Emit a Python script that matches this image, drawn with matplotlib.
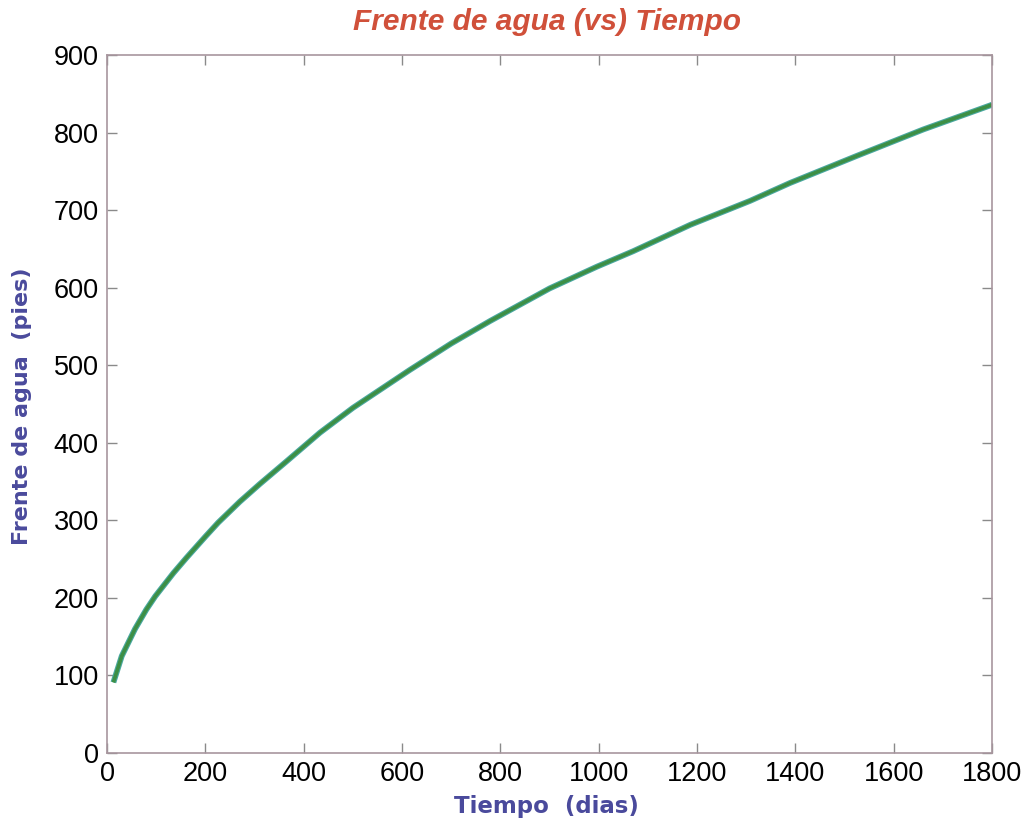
import matplotlib
matplotlib.use("Agg")
import matplotlib.pyplot as plt

# Data
tiempo = [13, 30, 57, 80, 98, 135, 162, 200, 226, 270, 311, 365, 433,
          500, 616, 700, 779, 900, 996, 1070, 1186, 1308, 1389, 1525,
          1660, 1796, 1800]
frente = [91, 125, 160, 185, 202, 232, 252, 279, 297, 324, 347, 376, 413,
          445, 494, 528, 557, 599, 627, 647, 681, 712, 735, 770,
          804, 835, 836]

title = "Frente de agua (vs) Tiempo"
xlabel = "Tiempo  (dias)"
ylabel = "Frente de agua  (pies)"
xticks = list(range(0, 1801, 200))
yticks = list(range(0, 901, 100))

plt.rcParams['font.family'] = ['Liberation Sans', 'DejaVu Sans']

fig = plt.figure(figsize=(10.27, 8.25), dpi=100)
ax = fig.add_axes([0.1042, 0.0873, 0.8618, 0.846])

ax.plot(tiempo, frente, color='#4aa8a0', lw=4.2, solid_capstyle='butt')
ax.plot(tiempo, frente, color='#3d8f45', lw=2.6, solid_capstyle='butt')

ax.set_xlim(0, 1800)
ax.set_ylim(0, 900)
ax.set_xticks(xticks)
ax.set_yticks(yticks)
ax.tick_params(direction='in', length=7, width=1, color='#8a8a8a',
               top=True, right=True, labelsize=19.5, pad=6)
for s in ax.spines.values():
    s.set_color('#a8969e')
    s.set_linewidth(1.2)

fig.text(0.533, 0.973, title, ha='center', va='center', color='#d0503a',
         fontsize=21.5, fontweight='bold', fontstyle='italic')
fig.text(0.532, 0.023, xlabel, ha='center', va='center', color='#4a4a9c',
         fontsize=16.5, fontweight='bold', family=['DejaVu Sans'])
fig.text(0.021, 0.507, ylabel, ha='center', va='center', color='#4a4a9c',
         fontsize=16, fontweight='bold', rotation=90, family=['DejaVu Sans'])

fig.savefig("out.png", dpi=100)
